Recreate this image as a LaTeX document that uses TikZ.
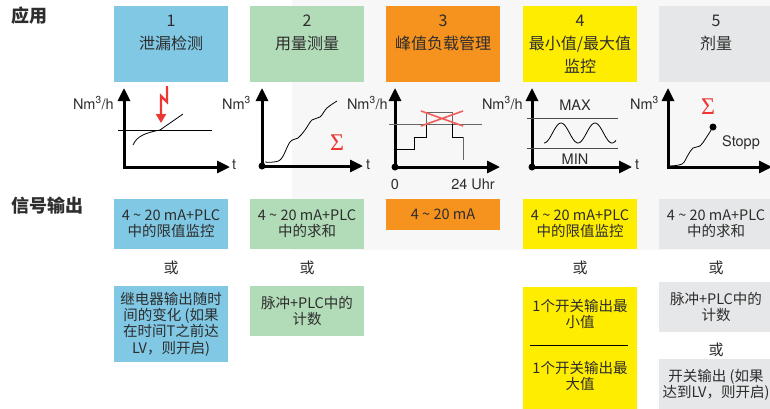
\documentclass[tikz,border=0pt]{standalone}
\usepackage{fontspec}
\setmainfont{TeX Gyre Heros}
\newfontfamily\cjk{Noto Sans CJK SC}
\newfontfamily\grk{Liberation Serif}
\usetikzlibrary{positioning,arrows.meta}
\definecolor{leakblue}{RGB}{128,200,228}
\definecolor{usegreen}{RGB}{178,219,184}
\definecolor{peakorange}{RGB}{246,146,30}
\definecolor{limyellow}{RGB}{255,237,0}
\definecolor{dosegray}{RGB}{230,231,232}
\definecolor{txtgray}{RGB}{45,45,45}
\definecolor{alarmred}{RGB}{237,55,50}
\definecolor{bggray}{RGB}{247,247,247}
\tikzstyle{appbox} = [rectangle, minimum width=114pt, minimum height=76pt, inner sep=0pt]
\tikzstyle{apptext} = [align=center, text=txtgray, font=\cjk\fontsize{16}{23}\selectfont, inner sep=0pt]
\tikzstyle{outbox} = [rectangle, minimum width=114pt, inner sep=0pt, align=center, text=txtgray, font=\cjk\fontsize{14.5}{16.3}\selectfont]
\tikzstyle{ortext} = [text=txtgray, font=\cjk\fontsize{15}{17}\selectfont, inner sep=0pt]
\tikzstyle{heading} = [anchor=west, text=txtgray, font=\cjk\bfseries\fontsize{18}{20}\selectfont, inner sep=0pt]
\tikzstyle{axis} = [line width=3pt, {Triangle[length=13pt,width=12pt]}-{Triangle[length=13pt,width=12pt]}]
\tikzstyle{lbl} = [text=txtgray, font=\fontsize{14.5}{16}\selectfont, inner sep=0pt]
\tikzstyle{sum} = [text=alarmred, font=\grk\fontsize{24}{26}\selectfont, inner sep=0pt]

\begin{document}
\begin{tikzpicture}[x=1pt,y=-1pt]
	\useasboundingbox (0,0) rectangle (770,408);
	\clip (0,0) rectangle (770,408);
	\fill[bggray] (292,0) rectangle (770,250);
	% headings
	\node[heading] (hApp) at (11,16) {应用};
	\node[heading] (hSig) at (11,206) {信号输出};
	% application boxes
	\node[appbox, fill=leakblue] (app1) at (171,44) {};
	\node[apptext, below=9pt of app1.north] (app1t) {1\\泄漏检测};
	\node[appbox, fill=usegreen] (app2) at (307,44) {};
	\node[apptext, below=9pt of app2.north] (app2t) {2\\用量测量};
	\node[appbox, fill=peakorange] (app3) at (443,44) {};
	\node[apptext, below=9pt of app3.north] (app3t) {3\\峰值负载管理};
	\node[appbox, fill=limyellow] (app4) at (580,44) {};
	\node[apptext, below=9pt of app4.north] (app4t) {4\\最小值/最大值\\监控};
	\node[appbox, fill=dosegray] (app5) at (716,44) {};
	\node[apptext, below=9pt of app5.north] (app5t) {5\\剂量};

	% chart 1: leak
	\draw[axis] (124,88) -- (124,167) -- (230,167);
	\node[lbl, anchor=east] (y1) at (114,103) {Nm\textsuperscript{3}/h};
	\node[lbl, anchor=west] (t1) at (232,165) {t};
	\draw[line width=0.8pt] (118,130) -- (212,130);
	\draw[line width=0.8pt] (133,145) .. controls (137,136) and (145,133) .. (160,130) -- (183,114);
	\draw[alarmred, line width=2.2pt, {-Triangle[length=9pt,width=10pt]}] (167,86) -- (167,102) -- (161,96) -- (161,123);

	% chart 2: consumption
	\draw[axis] (262,88) -- (262,166) -- (363,166);
	\fill (262,166) circle (3.5pt);
	\node[lbl, anchor=east] (y2) at (251,103) {Nm\textsuperscript{3}};
	\node[lbl, anchor=west] (t2) at (366,165) {t};
	\draw[line width=0.8pt] plot[smooth, tension=0.6] coordinates {(265,162) (280,160) (290,142) (298,138) (305,130) (312,120) (320,117) (327,108) (337,101)};
	\node[sum] (s2) at (337,143) {Σ};

	% chart 3: peak load
	\draw[axis] (395,88) -- (395,167) -- (500,167);
	\fill (395,167) circle (3.5pt);
	\node[lbl, anchor=east] (y3) at (388,103) {Nm\textsuperscript{3}/h};
	\node[lbl] (zero) at (395,184) {0};
	\node[lbl] (uhr) at (473,184) {24 Uhr};
	\draw[black!60, line width=0.9pt] (389,124) -- (482,124);
	\draw[black!60, line width=0.9pt] (426,124) -- (426,112) -- (452,112) -- (452,124);
	\draw[black!60, line width=0.9pt] (463,137) -- (463,160);
	\draw[line width=0.9pt] (395,149) -- (414,149) -- (414,137) -- (426,137) -- (426,124);
	\draw[line width=0.9pt] (452,124) -- (452,137) -- (463,137);
	\draw[alarmred!80, line width=1.6pt] (421,111) -- (463,126) (421,126) -- (463,111);

	% chart 4: min / max
	\draw[axis] (532,88) -- (532,167) -- (632,167);
	\fill (532,167) circle (3.5pt);
	\node[lbl, anchor=east] (y4) at (523,103) {Nm\textsuperscript{3}/h};
	\node[lbl, anchor=west] (t4) at (635,165) {t};
	\draw[black!70, line width=0.9pt] (527,118) -- (618,118);
	\draw[black!70, line width=0.9pt] (527,148) -- (618,148);
	\node[lbl] (max) at (575,105) {MAX};
	\node[lbl] (min) at (575,159) {MIN};
	\draw[line width=0.8pt] plot[domain=0:72, samples=60] ({544+\x},{133+10*cos(\x*10.588)});

	% chart 5: dosing
	\draw[axis] (668,88) -- (668,167) -- (772,167);
	\node[lbl, anchor=east] (y5) at (659,103) {Nm\textsuperscript{3}};
	\draw[line width=0.8pt] plot[smooth, tension=0.6] coordinates {(669,166) (682,164) (688,155) (693,148) (700,146) (706,138) (713,127)};
	\fill (713,127) circle (3.5pt);
	\node[sum] (s5) at (708,107) {Σ};
	\node[lbl] (stopp) at (741,143) {Stopp};

	% signal outputs
	\node[outbox, fill=leakblue, minimum height=50pt] (sig1) at (171,224) {4 \textasciitilde{} 20 mA+PLC\\中的限值监控};
	\node[outbox, fill=usegreen, minimum height=50pt] (sig2) at (307,224) {4 \textasciitilde{} 20 mA+PLC\\中的求和};
	\node[outbox, fill=peakorange, minimum height=31pt] (sig3) at (443,214.5) {4 \textasciitilde{} 20 mA};
	\node[outbox, fill=limyellow, minimum height=50pt] (sig4) at (580,224) {4 \textasciitilde{} 20 mA+PLC\\中的限值监控};
	\node[outbox, fill=dosegray, minimum height=50pt] (sig5) at (716,224) {4 \textasciitilde{} 20 mA+PLC\\中的求和};

	\node[ortext] (or1) at (171,268) {或};
	\node[ortext] (or2) at (307,268) {或};
	\node[ortext] (or4) at (580,268) {或};
	\node[ortext] (or5) at (716,268) {或};
	\node[ortext] (or5b) at (716,350) {或};

	\node[outbox, fill=leakblue, minimum height=76pt] (sig1b) at (171,324) {继电器输出随时\\间的变化 (如果\\在时间T之前达\\LV，则开启)};
	\node[outbox, fill=usegreen, minimum height=50pt] (sig2b) at (307,311) {脉冲+PLC中的\\计数};
	\node[outbox, fill=limyellow, minimum height=123pt] (sig4b) at (580,348.5) {};
	\node[outbox] (sig4min) at (580,314) {1个开关输出最\\小值};
	\node[outbox] (sig4max) at (580,376) {1个开关输出最\\大值};
	\draw[line width=0.8pt] (530,345) -- (628,345);
	\node[outbox, fill=dosegray, minimum height=50pt] (sig5b) at (716,307) {脉冲+PLC中的\\计数};
	\node[outbox, fill=dosegray, minimum height=52pt] (sig5c) at (716,385) {开关输出 (如果\\达到LV，则开启)};
\end{tikzpicture}
\end{document}
